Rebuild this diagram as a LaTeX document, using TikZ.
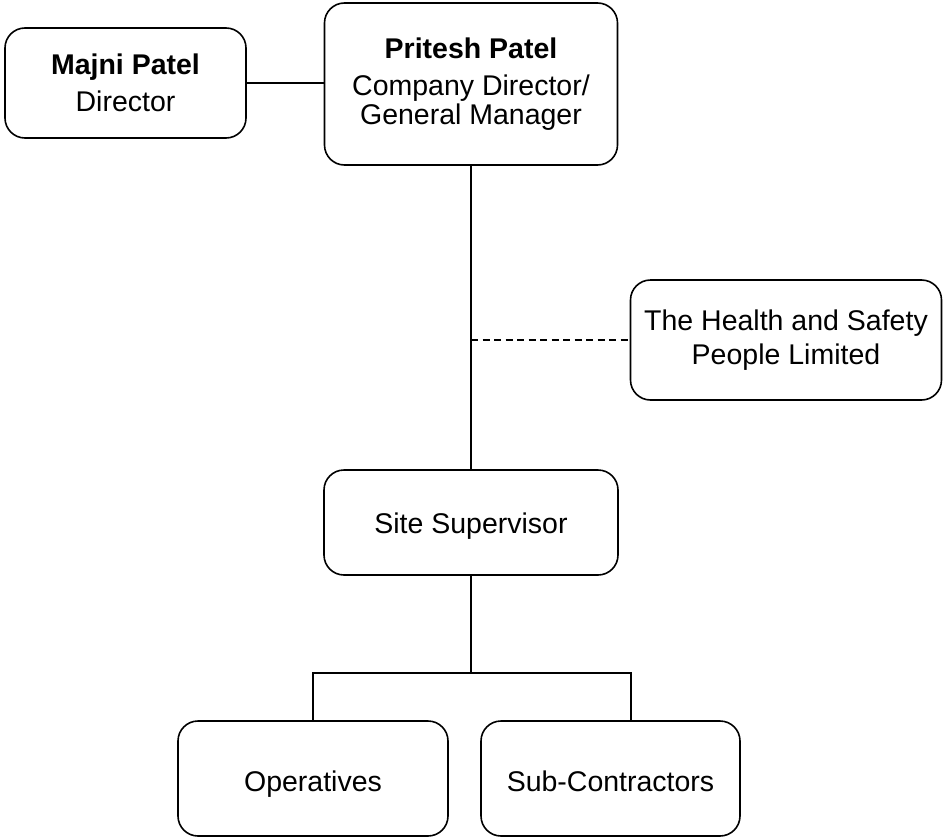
\documentclass[tikz,border=0pt]{standalone}
\usepackage{fontspec}
\setmainfont{Liberation Sans}
\begin{document}
\begin{tikzpicture}[x=1pt,y=-1pt,
  box/.style={draw, line width=1.6pt, rounded corners=20pt, inner sep=0pt, align=center,
    font=\fontsize{28.5}{28.5}\selectfont},
  single/.style={text height=#1, text depth=0pt},
  conn/.style={line width=1.6pt},
  dconn/.style={line width=1.3pt, dash pattern=on 7pt off 4.5pt}]
\useasboundingbox (0,0) rectangle (943,838);
\node[box, minimum width=241pt, minimum height=110pt] (majni) at (125.5,83) {\textbf{Majni Patel}\\[9pt]Director};
\node[box, minimum width=293pt, minimum height=162pt] (pritesh) at (471,84) {\textbf{Pritesh Patel}\\[9pt]Company Director/\\General Manager};
\node[box, minimum width=311pt, minimum height=120pt] (health) at (786,340) {The Health and Safety\\[6pt]People Limited};
\node[box, single=21pt, minimum width=294pt, minimum height=105pt] (site) at (471,522.5) {Site Supervisor};
\node[box, single=25pt, minimum width=270pt, minimum height=115pt] (oper) at (313,778.5) {Operatives};
\node[box, single=25pt, minimum width=259pt, minimum height=115pt] (sub) at (610.5,778.5) {Sub-Contractors};
\coordinate (tap) at (471,340);
\coordinate (bus) at (471,673);
\draw[conn] (majni.east) -- (pritesh.west |- majni.east);
\draw[conn] (pritesh.south) -- (site.north);
\draw[dconn] (tap) -- (health.west);
\draw[conn] (site.south) -- (bus);
\draw[conn] (oper.north) |- (bus) -| (631,673) -- (631,721);
\end{tikzpicture}
\end{document}
